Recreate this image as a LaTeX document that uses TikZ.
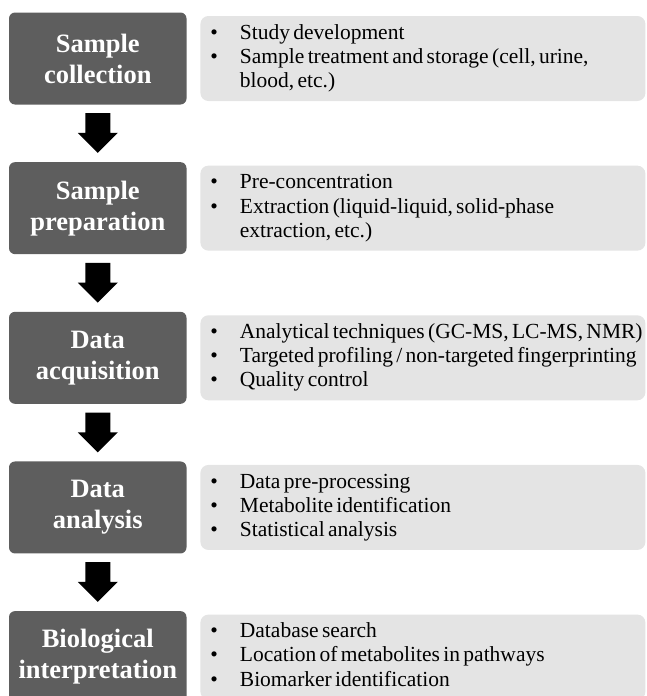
\documentclass[tikz,border=0pt]{standalone}
\usepackage{fontspec}
\setmainfont{Liberation Serif}
\usepackage{xcolor}
\usepackage{tikz}
\usetikzlibrary{calc,positioning}
\definecolor{stagec}{HTML}{5E5E5E}
\definecolor{infobg}{HTML}{E4E4E4}
\newcommand{\infolist}[1]{{\fontsize{21.5}{24.3}\selectfont
  \begin{tabular}{@{\hspace{10pt}}l@{\hspace{22pt}}l@{}}#1\end{tabular}}}
% block arrow from the bottom of one stage to the top of the next
\newcommand{\flowar}[2]{\fill[black] ($(#1.south)+(-12.5,-8.5)$) -- ($(#2.north)+(-12.5,29)$)
  -- ++(-7.5,0) -- ($(#2.north)+(0,9)$) -- ($(#2.north)+(20,29)$) -- ++(-7.5,0)
  -- ($(#1.south)+(12.5,-8.5)$) -- cycle;}
\tikzset{
  stage/.style={fill=stagec,rounded corners=6pt,minimum width=177.5pt,minimum height=92pt,
    inner sep=0pt,text=white,align=center,font=\bfseries\fontsize{26.5}{31}\selectfont},
  info/.style={fill=infobg,rounded corners=8pt,text width=445pt,minimum height=85pt,
    inner sep=0pt,align=left}
}

\begin{document}
\begin{tikzpicture}[x=1pt,y=1pt,node distance=57.25pt and 13.5pt]
\clip (0,0) rectangle (646,-696);
\useasboundingbox (0,0) rectangle (646,-696);
% stages
\node[stage] (c1) at (97.75,-58.5) {Sample\\collection};
\node[stage,below=of c1] (c2) {Sample\\preparation};
\node[stage,below=of c2] (c3) {Data\\acquisition};
\node[stage,below=of c3] (c4) {Data\\analysis};
\node[stage,below=of c4] (c5) {Biological\\interpretation};
% details
\node[info,right=of c1] (i1) {\infolist{%
  \textbullet & Study development\\
  \textbullet & Sample treatment and storage (cell, urine,\\
  & blood, etc.)}};
\node[info,right=of c2] (i2) {\infolist{%
  \textbullet & Pre-concentration\\
  \textbullet & Extraction (liquid-liquid, solid-phase\\
  & extraction, etc.)}};
\node[info,right=of c3] (i3) {\infolist{%
  \textbullet & Analytical techniques (GC-MS, LC-MS, NMR)\\
  \textbullet & Targeted profiling / non-targeted fingerprinting\\
  \textbullet & Quality control}};
\node[info,right=of c4] (i4) {\infolist{%
  \textbullet & Data pre-processing\\
  \textbullet & Metabolite identification\\
  \textbullet & Statistical analysis}};
\node[info,right=of c5] (i5) {\infolist{%
  \textbullet & Database search\\
  \textbullet & Location of metabolites in pathways\\
  \textbullet & Biomarker identification}};
% flow
\flowar{c1}{c2}
\flowar{c2}{c3}
\flowar{c3}{c4}
\flowar{c4}{c5}
\end{tikzpicture}
\end{document}
